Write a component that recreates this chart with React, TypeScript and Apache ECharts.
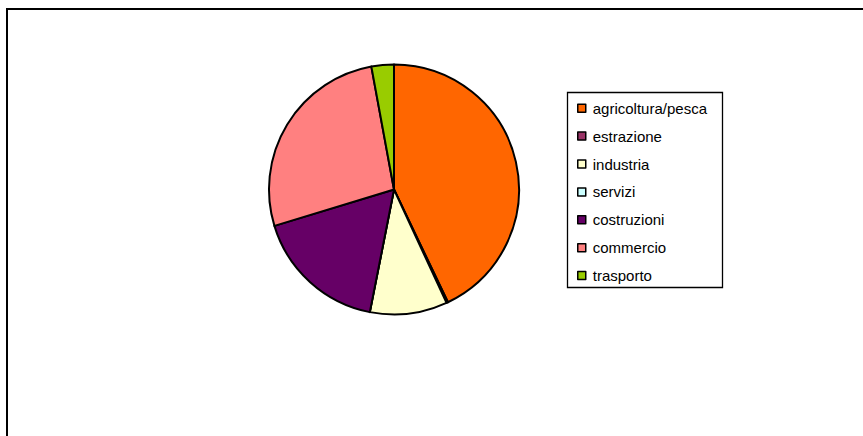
import React, { useEffect, useRef } from "react";
import * as echarts from "echarts";

const categories = [
  "agricoltura/pesca",
  "estrazione",
  "industria",
  "servizi",
  "costruzioni",
  "commercio",
  "trasporto",
];
const values = [42.9, 0.2, 10.0, 0, 17.2, 26.8, 2.9];
const colors = ["#FF6600", "#993366", "#FFFFCC", "#CCFFFF", "#660066", "#FF8080", "#99CC00"];

export default function App() {
  const ref = useRef<HTMLDivElement>(null);
  useEffect(() => {
    if (!ref.current) return;
    const chart = echarts.init(ref.current, undefined, { renderer: "svg" });
    chart.setOption({
      animation: false,
      backgroundColor: "#ffffff",
      graphic: [
        {
          type: "rect",
          shape: { x: 7, y: 9, width: 1000, height: 600 },
          style: { fill: "none", stroke: "#000", lineWidth: 2 },
          silent: true,
        },
        {
          type: "rect",
          shape: { x: 567.5, y: 92.5, width: 155, height: 195 },
          style: { fill: "#fff", stroke: "#000", lineWidth: 1.3 },
          silent: true,
          z: -1,
        },
      ],
      legend: {
        orient: "vertical",
        left: 577,
        top: 100.7,
        itemGap: 12.9,
        itemWidth: 8,
        itemHeight: 8,
        icon: "rect",
        padding: 0,
        selectedMode: false,
        textStyle: {
          fontFamily: "'Liberation Sans', Arial, sans-serif",
          fontSize: 15,
          lineHeight: 14,
          color: "#000",
          padding: [0, 0, 0, 2],
        },
        itemStyle: { borderColor: "#000", borderWidth: 1.5, borderType: "solid" },
        data: categories.map((name) => ({
          name,
          itemStyle: { borderColor: "#000", borderWidth: 1.5 },
        })),
      },
      series: [
        {
          type: "pie",
          center: [394, 189.5],
          radius: 125,
          startAngle: 90,
          clockwise: true,
          label: { show: false },
          labelLine: { show: false },
          avoidLabelOverlap: false,
          minAngle: 0,
          itemStyle: { borderColor: "#000", borderWidth: 2 },
          emphasis: { disabled: true },
          data: categories.map((name, i) => ({
            name,
            value: values[i],
            itemStyle: { color: colors[i] },
          })),
        },
      ],
    });
    return () => chart.dispose();
  }, []);
  return (
    <div
      ref={ref}
      style={{ position: "fixed", left: 0, top: 0, width: 863, height: 436 }}
    />
  );
}
